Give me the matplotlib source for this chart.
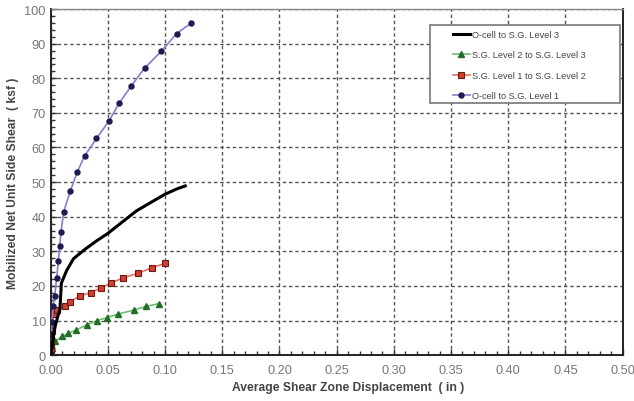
import matplotlib
matplotlib.use("Agg")
import matplotlib.pyplot as plt
from matplotlib.ticker import MultipleLocator
from matplotlib.patches import Rectangle

plt.rcParams['font.family'] = ['Liberation Sans', 'DejaVu Sans']

# O-cell to S.G. Level 3 (line only)
black_x = [0.0, 0.001, 0.002, 0.004, 0.006, 0.008, 0.0093, 0.014, 0.02, 0.03, 0.04, 0.05, 0.06, 0.075, 0.09, 0.10, 0.11, 0.1176]
black_y = [0.0, 2.0, 5.0, 8.5, 11.0, 13.0, 20.8, 24.5, 27.9, 30.6, 33.0, 35.2, 37.8, 41.7, 44.6, 46.5, 48.0, 48.9]

# S.G. Level 2 to S.G. Level 3
green_x = [0.0, 0.001, 0.0041, 0.0099, 0.0154, 0.0224, 0.0317, 0.0405, 0.0489, 0.059, 0.0725, 0.0836, 0.0946]
green_y = [0.0, 2.0, 4.0, 5.4, 6.3, 7.3, 8.8, 10.0, 10.8, 11.9, 13.0, 14.1, 14.9]

# S.G. Level 1 to S.G. Level 2
red_x = [0.0, 0.0, 0.0, 0.0003, 0.0006, 0.001, 0.0015, 0.0025, 0.0055, 0.0122, 0.0166, 0.0253, 0.0349, 0.0437, 0.0524, 0.0632, 0.0766, 0.0888, 0.0998]
red_y = [0.0, 1.0, 1.7, 3.0, 4.6, 7.0, 9.0, 11.8, 13.0, 14.2, 15.4, 17.1, 18.1, 19.4, 20.8, 22.3, 23.7, 25.3, 26.5]

# O-cell to S.G. Level 1
blue_x = [0.0, 0.0003, 0.0006, 0.001, 0.002, 0.0035, 0.0052, 0.0067, 0.0079, 0.009, 0.0114, 0.0172, 0.0233, 0.0297, 0.040, 0.051, 0.060, 0.0705, 0.082, 0.0967, 0.110, 0.123]
blue_y = [0.0, 3.0, 6.0, 9.5, 14.2, 17.1, 22.4, 27.3, 31.6, 35.7, 41.5, 47.5, 53.0, 57.6, 62.6, 67.7, 72.9, 77.8, 82.9, 87.8, 92.9, 96.0]

labels = ["O-cell to S.G. Level 3", "S.G. Level 2 to S.G. Level 3",
          "S.G. Level 1 to S.G. Level 2", "O-cell to S.G. Level 1"]

fig = plt.figure(figsize=(6.34, 4.02), dpi=100)
ax = fig.add_axes([0.080, 0.114, 0.902, 0.861])

ax.plot(black_x, black_y, color='black', lw=2.2, label=labels[0], zorder=5)
ax.plot(green_x, green_y, color='#6cc06c', lw=1.2, marker='^', ms=4.2,
        mfc='#1f6e2a', mec='#1f6e2a', label=labels[1], zorder=4)
ax.plot(red_x, red_y, color='#e87060', lw=1.2, marker='s', ms=4.2,
        mfc='#d04030', mec='#6a1a10', mew=0.8, label=labels[2], zorder=4)
ax.plot(blue_x, blue_y, color='#8080cc', lw=1.2, marker='o', ms=3.6,
        mfc='#1c1c50', mec='#1c1c50', label=labels[3], zorder=4)

ax.set_xlim(0, 0.5)
ax.set_ylim(0, 100)
ax.xaxis.set_major_locator(MultipleLocator(0.05))
ax.xaxis.set_minor_locator(MultipleLocator(0.01))
ax.yaxis.set_major_locator(MultipleLocator(10))
ax.yaxis.set_minor_locator(MultipleLocator(2))
ax.xaxis.set_major_formatter(plt.FuncFormatter(lambda v, p: f"{v:.2f}"))

ax.grid(True, which='major', color='#555555', ls=(0, (2.5, 2)), lw=1.0)
ax.tick_params(which='both', direction='in', colors='#333333', labelcolor='#777777', labelsize=9.2)
ax.tick_params(axis='x', pad=6)
ax.tick_params(which='major', length=4, width=1)
ax.tick_params(which='minor', length=3, width=1)
for s in ax.spines.values():
    s.set_color('#222222')
    s.set_linewidth(1.4)
ax.spines['top'].set_color('#888888')
ax.spines['top'].set_linewidth(1.0)

ax.set_xlabel("Average Shear Zone Displacement  ( in )", fontsize=8.7, fontweight='bold', color='#444444')
ax.xaxis.set_label_coords(0.52, -0.075)
ax.set_ylabel("Mobilized Net Unit Side Shear  ( ksf )", fontsize=8.7, fontweight='bold', color='#444444')

# legend frame
ax.add_patch(Rectangle((0.663, 0.728), 0.333, 0.226, transform=ax.transAxes,
                       facecolor='white', edgecolor='#777777', lw=1.2, zorder=6))
leg = ax.legend(loc='upper left', bbox_to_anchor=(0.703, 0.940), fontsize=6.6, frameon=False,
                handlelength=1.9, borderpad=0, labelspacing=1.25, handletextpad=0.15,
                borderaxespad=0)
leg.set_zorder(7)
for t in leg.get_texts():
    t.set_color('#444444')

fig.savefig("out.png", dpi=100)
